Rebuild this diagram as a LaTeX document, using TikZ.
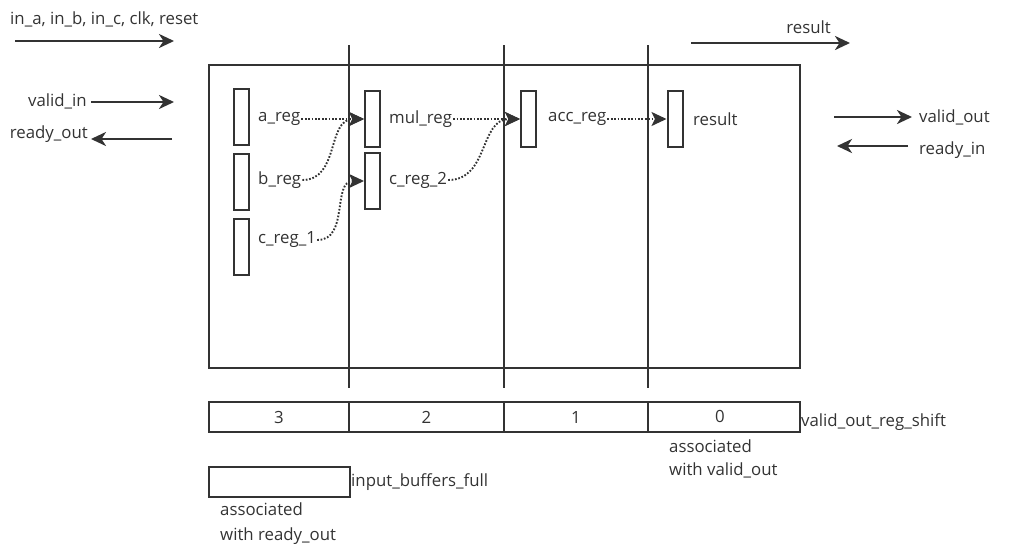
\documentclass[tikz,border=0pt]{standalone}
\usepackage{fontspec}
\setmainfont{Open Sans}
\usetikzlibrary{arrows.meta}
\definecolor{ink}{HTML}{333333}
\begin{document}
\begin{tikzpicture}[x=1pt,y=-1pt,
  every node/.style={text=ink,font=\fontsize{16.8}{23}\selectfont,inner sep=0pt},
  frame/.style={draw=ink,line width=2.2pt},
  divider/.style={draw=ink,line width=1.6pt},
  reg/.style={draw=ink,line width=2pt,minimum width=15pt,minimum height=56pt,inner sep=0pt},
  lbl/.style={anchor=west},
  bigarrow/.style={draw=ink,line width=2.6pt,-{Stealth[length=15pt,width=14pt,inset=4.5pt]}},
  dotarrow/.style={draw=ink,line width=1.9pt,dash pattern=on 1.7pt off 1.7pt,-{Stealth[length=15pt,width=14pt,inset=3.5pt]}},
  cell/.style={draw=ink,line width=2pt,minimum height=30pt,inner sep=0pt},
]
\useasboundingbox (0,0) rectangle (1015,558);
% main frame
\draw[frame] (209,65) rectangle (800,368);
% stage dividers
\coordinate (d1t) at (349,45); \coordinate (d1b) at (349,388);
\coordinate (d2t) at (504,45); \coordinate (d2b) at (504,388);
\coordinate (d3t) at (648,45); \coordinate (d3b) at (648,388);
\draw[divider] (d1t) -- (d1b);
\draw[divider] (d2t) -- (d2b);
\draw[divider] (d3t) -- (d3b);

% inputs
\node[lbl] (inlab) at (10,19) {in\_a, in\_b, in\_c, clk, reset};
\coordinate (ins) at (15,41); \coordinate (ine) at (174,41);
\draw[bigarrow] (ins) -- (ine);
\node[anchor=east] (vin) at (87,101) {valid\_in};
\coordinate (vine) at (174,102);
\draw[bigarrow] ([xshift=4pt]vin.east |- vine) -- (vine);
\node[anchor=east] (rout) at (88,134) {ready\_out};
\coordinate (routs) at (172,139);
\draw[bigarrow] (routs) -- (91,139);

% outputs
\node[anchor=east] (reslab) at (831,27) {result};
\coordinate (ress) at (691,43); \coordinate (rese) at (850,43);
\draw[bigarrow] (ress) -- (rese);
\node[lbl] (vout) at (919,117) {valid\_out};
\coordinate (vouts) at (834,117);
\draw[bigarrow] (vouts) -- ([xshift=-7pt]vout.west |- vouts);
\node[lbl] (rin) at (919,150) {ready\_in};
\coordinate (rins) at (908,146);
\draw[bigarrow] (rins) -- (837,146);

% registers
\node[reg] (areg) at (241.5,117) {};
\node[reg] (breg) at (241.5,182) {};
\node[reg] (c1reg) at (241.5,246.5) {};
\node[reg] (mulr) at (372.5,119) {};
\node[reg] (c2reg) at (372.5,181) {};
\node[reg] (accr) at (528.5,119) {};
\node[reg] (resr) at (675,119) {};
\node[lbl] (al) at (258,119) {a\_reg};
\node[lbl] (bl) at (258,180) {b\_reg};
\node[lbl] (c1l) at (258,240) {c\_reg\_1};
\node[lbl] (mull) at (389,119) {mul\_reg};
\node[lbl] (c2l) at (389,180) {c\_reg\_2};
\node[lbl] (accl) at (548,119) {acc\_reg};
\node[lbl] (resl) at (693,119) {result};

% dotted connectors
\draw[dotarrow] ([xshift=1pt]al.east) -- (mulr.west);
\draw[dotarrow] ([xshift=1pt]bl.east) to[out=0,in=180,looseness=1.1] (mulr.west);
\draw[dotarrow] ([xshift=1pt]c1l.east) to[out=0,in=180,looseness=1.1] (c2reg.west);
\draw[dotarrow] ([xshift=1pt]mull.east) -- (accr.west);
\draw[dotarrow] ([xshift=1pt]c2l.east) to[out=0,in=180,looseness=1.1] (accr.west);
\draw[dotarrow] ([xshift=1pt]accl.east) -- (resr.west);

% shift register
\node[cell,minimum width=140pt] (s3) at (279,417) {3};
\node[cell,minimum width=155pt] (s2) at (426.5,417) {2};
\node[cell,minimum width=144pt] (s1) at (576,417) {1};
\node[cell,minimum width=152pt] (s0) at (724,417) {};
\node (s0t) at (720,416) {0};
\node[lbl] (shl) at (801,422) {valid\_out\_reg\_shift};
\node[lbl,align=left] (avo) at (669,458.5) {associated\\with valid\_out};

% input buffers
\node[cell,minimum width=141pt] (ibf) at (279.5,481.5) {};
\node[lbl] (ibl) at (351,482) {input\_buffers\_full};
\node[lbl,align=left,font=\fontsize{16.8}{25}\selectfont] (aro) at (220,524) {associated\\with ready\_out};
\end{tikzpicture}
\end{document}
